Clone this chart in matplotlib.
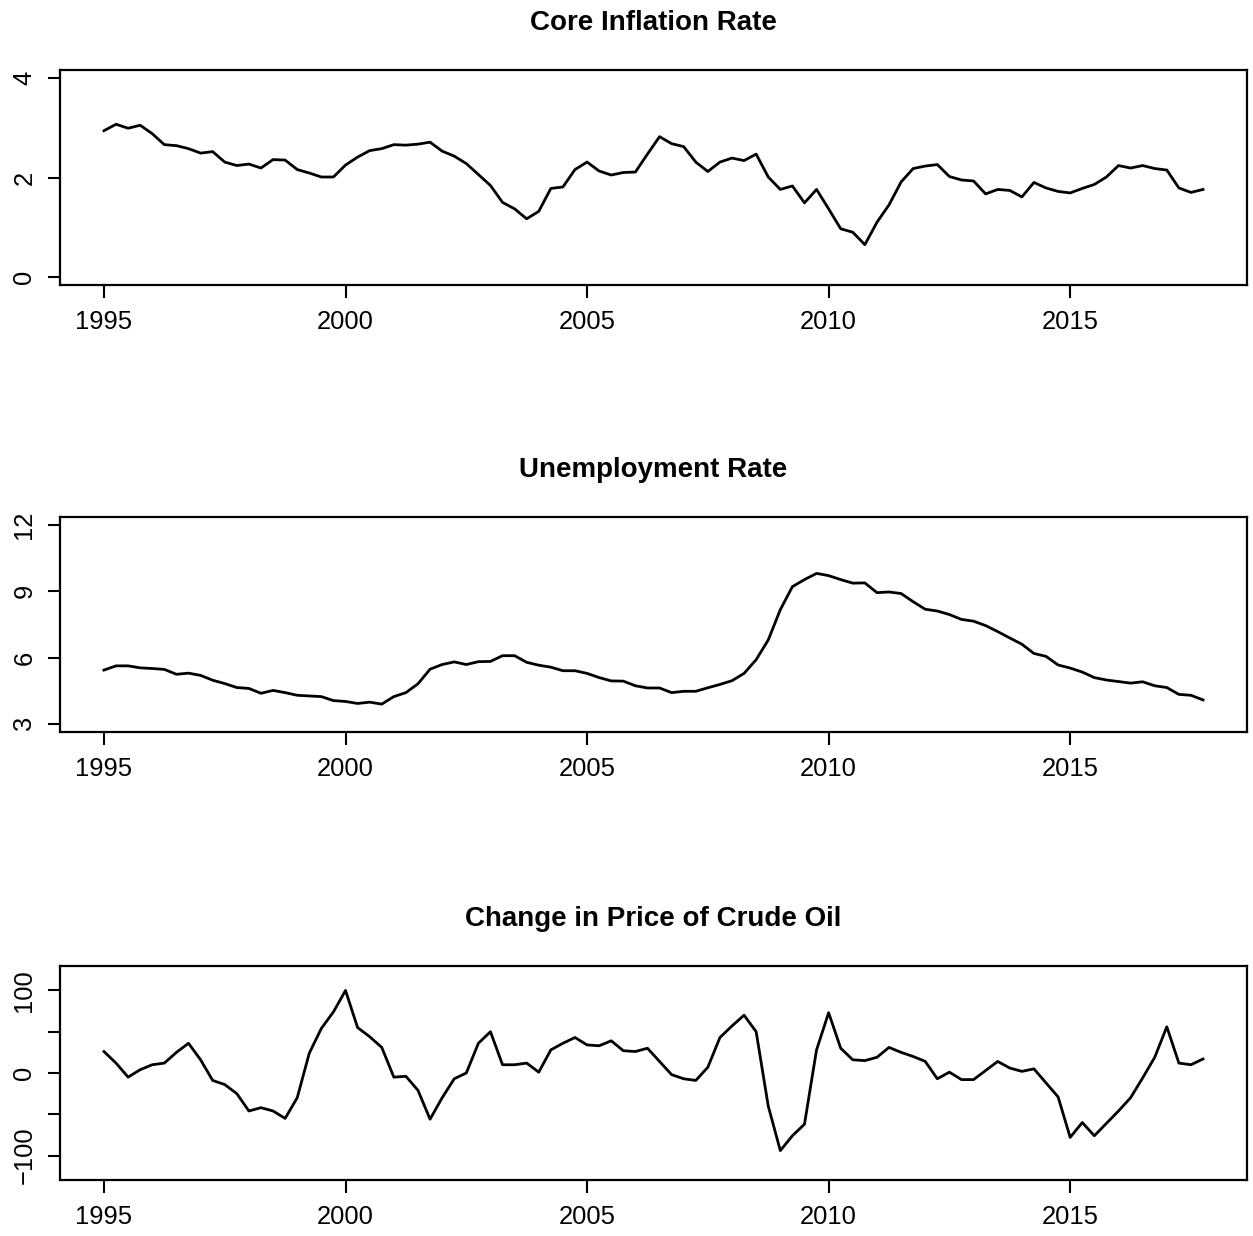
import numpy as np
import matplotlib
matplotlib.use('Agg')
import matplotlib.pyplot as plt

plt.rcParams['font.family'] = ['Liberation Sans', 'DejaVu Sans']

# quarterly data, 1995Q1 - 2017Q4
start_year = 1995
n_quarters = 92

core_inflation = [2.94, 3.07, 2.99, 3.05, 2.88, 2.66, 2.64, 2.58, 2.49, 2.52,
                  2.31, 2.24, 2.27, 2.19, 2.36, 2.35, 2.16, 2.09, 2.01, 2.01,
                  2.25, 2.41, 2.54, 2.58, 2.66, 2.65, 2.67, 2.71, 2.53, 2.43,
                  2.28, 2.06, 1.84, 1.50, 1.37, 1.17, 1.32, 1.78, 1.81, 2.16,
                  2.31, 2.13, 2.05, 2.10, 2.11, 2.47, 2.82, 2.68, 2.62, 2.31,
                  2.12, 2.31, 2.39, 2.34, 2.47, 2.01, 1.76, 1.83, 1.49, 1.76,
                  1.37, 0.97, 0.90, 0.65, 1.10, 1.45, 1.91, 2.18, 2.23, 2.26,
                  2.02, 1.95, 1.93, 1.67, 1.76, 1.74, 1.61, 1.90, 1.79, 1.72,
                  1.69, 1.78, 1.86, 2.01, 2.24, 2.19, 2.24, 2.18, 2.15, 1.79,
                  1.70, 1.76]

unemployment = [5.44, 5.63, 5.63, 5.54, 5.51, 5.47, 5.25, 5.30, 5.20, 4.98,
                4.83, 4.65, 4.61, 4.39, 4.52, 4.42, 4.30, 4.27, 4.24, 4.06,
                4.02, 3.93, 3.99, 3.90, 4.24, 4.42, 4.82, 5.48, 5.69, 5.81,
                5.69, 5.82, 5.83, 6.09, 6.09, 5.79, 5.66, 5.57, 5.41, 5.41,
                5.29, 5.10, 4.95, 4.94, 4.73, 4.63, 4.63, 4.42, 4.48, 4.48,
                4.64, 4.79, 4.96, 5.29, 5.91, 6.80, 8.17, 9.21, 9.53, 9.81,
                9.71, 9.53, 9.37, 9.38, 8.94, 8.97, 8.90, 8.53, 8.19, 8.11,
                7.95, 7.73, 7.65, 7.45, 7.18, 6.89, 6.61, 6.19, 6.06, 5.67,
                5.53, 5.35, 5.10, 4.99, 4.92, 4.85, 4.91, 4.73, 4.65, 4.34,
                4.30, 4.09]

oil_change = [26, 12, -5, 4, 10, 12, 25, 36, 16, -9,
              -14, -25, -46, -42, -46, -55, -30, 24, 54, 74,
              100, 55, 44, 31, -5, -4, -21, -56, -30, -7,
              0, 36, 50, 10, 10, 12, 1, 28, 36, 43,
              34, 33, 39, 27, 26, 30, 14, -2, -7, -9,
              7, 43, 57, 70, 50, -40, -94, -76, -62, 28,
              73, 30, 16, 15, 19, 31, 25, 20, 14, -7,
              1, -8, -8, 3, 14, 6, 2, 5, -12, -29,
              -78, -60, -76, -61, -46, -30, -6, 19, 56, 12,
              10, 17]

titles = ['Core Inflation Rate', 'Unemployment Rate', 'Change in Price of Crude Oil']
year_ticks = [1995, 2000, 2005, 2010, 2015]

t = start_year + np.arange(n_quarters) / 4.0

fig = plt.figure(figsize=(12.53, 12.36), dpi=100)

W, H = 1253, 1236
left, right = 60, 1247
boxes = [(70, 285), (517, 732), (966, 1180)]

panels = [
    (core_inflation, (-0.16, 4.16), [0, 2, 4], ['0', '2', '4']),
    (unemployment, (2.64, 12.36), [3, 6, 9, 12], ['3', '6', '9', '12']),
    (oil_change, (-129.6, 129.6), [-100, -50, 0, 50, 100], ['\u2212100', '', '0', '', '100']),
]

for (top, bottom), title, (vals, ylim, yt, ytl) in zip(boxes, titles, panels):
    ax = fig.add_axes([left / W, 1 - bottom / H, (right - left) / W, (bottom - top) / H])
    ax.plot(t, vals, color='black', lw=2.0)
    ax.set_xlim(1994.09, 2018.66)
    ax.set_ylim(*ylim)
    ax.set_xticks(year_ticks)
    ax.set_xticklabels([str(y) for y in year_ticks], fontsize=18.4)
    ax.set_yticks(yt)
    ax.set_yticklabels(ytl, fontsize=18.4, rotation=90, va='center')
    ax.tick_params(axis='both', direction='out', length=9, width=1.5, color='black')
    ax.tick_params(axis='x', pad=9)
    ax.tick_params(axis='y', pad=8)
    for s in ax.spines.values():
        s.set_linewidth(1.6)
    ax.set_title(title, fontsize=20, fontweight='bold', pad=29)

fig.savefig('out.png', dpi=100)
